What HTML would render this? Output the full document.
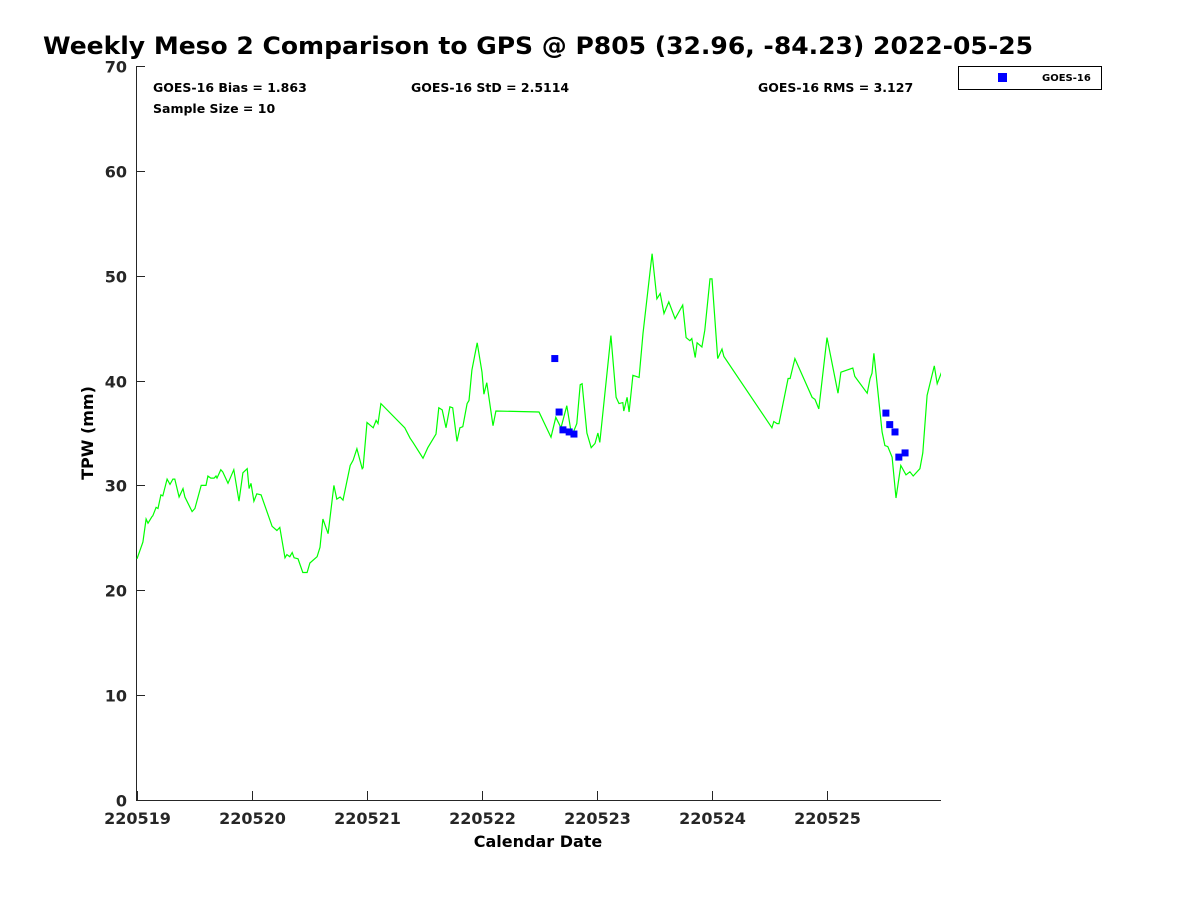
<!DOCTYPE html>
<html><head><meta charset="utf-8"><style>
html,body{margin:0;padding:0;background:#fff;}
svg{display:block;font-family:"DejaVu Sans","Liberation Sans",sans-serif;font-weight:bold;}
</style></head><body>
<svg id="chart" width="1200" height="900">
<rect width="1200" height="900" fill="#fff"/>
<text x="43" y="54" font-size="24" textLength="990" lengthAdjust="spacingAndGlyphs">Weekly Meso 2 Comparison to GPS @ P805 (32.96, -84.23) 2022-05-25</text>
<g id="axes"></g>
<g id="marks"></g>
<text x="153" y="92" font-size="12.5">GOES-16 Bias = 1.863</text>
<text x="153" y="113" font-size="12.5">Sample Size = 10</text>
<text x="411" y="92" font-size="12.5">GOES-16 StD = 2.5114</text>
<text x="758" y="92" font-size="12.5">GOES-16 RMS = 3.127</text>
<g>
<rect x="958.5" y="66.5" width="143" height="23" fill="#fff" stroke="#000" stroke-width="1"/>
<rect x="998" y="73" width="9" height="9" fill="#0000ff"/>
<text x="1042" y="81" font-size="10">GOES-16</text>
</g>
<text x="538" y="847" font-size="16" text-anchor="middle">Calendar Date</text>
<text transform="translate(93,433) rotate(-90)" font-size="16" text-anchor="middle">TPW (mm)</text>
</svg>
<script>
const gpsHours=[0,1.25,1.9,2.3,3.1,3.3,4.0,4.4,5.0,5.4,6.3,6.9,7.5,7.9,8.8,9.6,10.0,11.5,12.1,13.4,14.4,14.8,15.4,16.1,16.5,16.7,17.5,17.9,19.0,20.2,21.3,22.1,23.0,23.4,23.8,24.4,25.0,25.9,28.2,29.2,29.8,30.9,31.3,31.9,32.4,32.8,33.6,34.6,35.5,36.1,37.6,38.2,38.8,39.9,41.1,41.7,42.4,43.0,44.5,45.1,45.9,47.0,47.2,48.0,49.3,49.9,50.3,50.9,55.9,57.0,57.6,59.7,60.7,62.4,63.0,63.7,64.5,65.3,65.9,66.8,67.4,68.0,68.9,69.3,69.9,71.0,72.0,72.4,73.0,74.3,74.9,83.9,86.4,87.4,88.5,89.7,90.6,91.0,91.8,92.5,92.9,93.9,94.8,95.6,96.2,96.6,98.1,98.9,100.0,100.6,101.4,101.6,102.3,102.7,103.5,104.8,105.6,107.5,108.5,109.2,110.0,111.0,112.3,113.9,114.6,115.4,115.8,116.5,116.9,117.9,118.5,119.6,120.0,121.2,122.1,122.5,132.5,132.9,133.6,134.0,135.9,136.3,137.3,140.9,141.5,142.3,144.0,146.3,146.9,149.4,149.8,152.4,153.0,153.4,153.8,155.5,156.1,156.7,157.6,158.4,159.4,160.5,161.3,162.0,163.4,164.0,164.9,166.4,167.0,168.0];
const gpsTpw=[23.0,24.6,26.8,26.4,27.0,27.1,27.9,27.8,29.1,29.0,30.6,30.1,30.6,30.6,28.9,29.7,28.9,27.5,27.8,30.0,30.0,30.9,30.7,30.7,30.9,30.7,31.5,31.3,30.2,31.5,28.5,31.2,31.6,29.7,30.2,28.5,29.2,29.1,26.1,25.7,26.0,23.1,23.4,23.2,23.6,23.1,23.0,21.7,21.7,22.6,23.2,24.1,26.8,25.4,30.0,28.7,28.9,28.6,31.9,32.4,33.5,31.6,31.7,36.0,35.5,36.2,35.9,37.8,35.5,34.5,34.1,32.6,33.6,34.9,37.4,37.2,35.5,37.5,37.4,34.2,35.5,35.6,37.8,38.1,41.0,43.6,40.8,38.7,39.8,35.7,37.1,37.0,34.6,36.5,35.5,37.6,35.1,35.0,35.9,39.6,39.7,35.0,33.6,34.0,35.0,34.1,40.7,44.3,38.4,37.8,37.9,37.1,38.4,37.0,40.5,40.3,44.5,52.1,47.8,48.3,46.4,47.5,45.9,47.2,44.1,43.8,44.0,42.2,43.6,43.2,44.8,49.7,49.7,42.1,43.0,42.3,35.5,36.1,35.9,35.9,40.2,40.2,42.1,38.4,38.2,37.3,44.1,38.8,40.8,41.2,40.4,38.8,40.2,40.7,42.6,35.1,33.8,33.7,32.7,28.8,31.9,31.0,31.3,30.9,31.6,33.1,38.6,41.4,39.7,40.9];
const goesHours=[87.2,88.1,88.9,90.2,91.2,156.3,157.1,158.2,159.0,160.3];
const goesTpw=[42.1,37.0,35.3,35.1,34.9,36.9,35.8,35.1,32.7,33.1];
const xTickLabels=["220519","220520","220521","220522","220523","220524","220525"];
const yTickValues=[0,10,20,30,40,50,60,70];

const NS="http://www.w3.org/2000/svg";
const L=136,R=941,T=66,B=800;
const xMin=-0.2,xMax=167.8,yMin=0,yMax=70;
function xs(h){return L+(h-xMin)/(xMax-xMin)*(R-L);}
function ys(v){return B-(v-yMin)/(yMax-yMin)*(B-T);}
function mk(tag,attrs,parent){const e=document.createElementNS(NS,tag);for(const k in attrs)e.setAttribute(k,attrs[k]);parent.appendChild(e);return e;}
const axes=document.getElementById('axes');
const marks=document.getElementById('marks');

const yAxis=mk('line',{x1:L+0.5,y1:T,x2:L+0.5,y2:B,stroke:'#262626','stroke-width':1},axes);


const xAxis=mk('line',{x1:L,y1:B+0.5,x2:R,y2:B+0.5,stroke:'#262626','stroke-width':1},axes);



yTickValues.forEach(v=>{
  const y=Math.round(ys(v))+0.5;
  const t=mk('line',{x1:L,y1:y,x2:L+9,y2:y,stroke:'#262626'},axes);
  
  
  const lb=mk('text',{x:L-9,y:y+6,'font-size':16,'text-anchor':'end',fill:'#262626'},axes);
  lb.textContent=v;
  
  
});
xTickLabels.forEach((s,i)=>{
  const x=Math.round(xs(i*24))+0.5;
  const t=mk('line',{x1:x,y1:B,x2:x,y2:B-9,stroke:'#262626'},axes);
  
  
  const lb=mk('text',{x:x,y:B+24,'font-size':16,'text-anchor':'middle',fill:'#262626'},axes);
  lb.textContent=s;
  
  
});

const defs=mk('defs',{},marks);
const cp=mk('clipPath',{id:'plotclip'},defs);
mk('rect',{x:L,y:T,width:R-L,height:B-T},cp);

const pts=gpsHours.map((h,i)=>xs(h).toFixed(1)+','+ys(gpsTpw[i]).toFixed(1)).join(' ');
const line=mk('polyline',{points:pts,fill:'none',stroke:'#00ff00','stroke-width':1.2,'clip-path':'url(#plotclip)'},marks);



goesHours.forEach((h,i)=>{
  const r=mk('rect',{x:xs(h)-3.5,y:ys(goesTpw[i])-3.5,width:7,height:7,fill:'#0000ff'},marks);
  
  
});
</script>
</body></html>
